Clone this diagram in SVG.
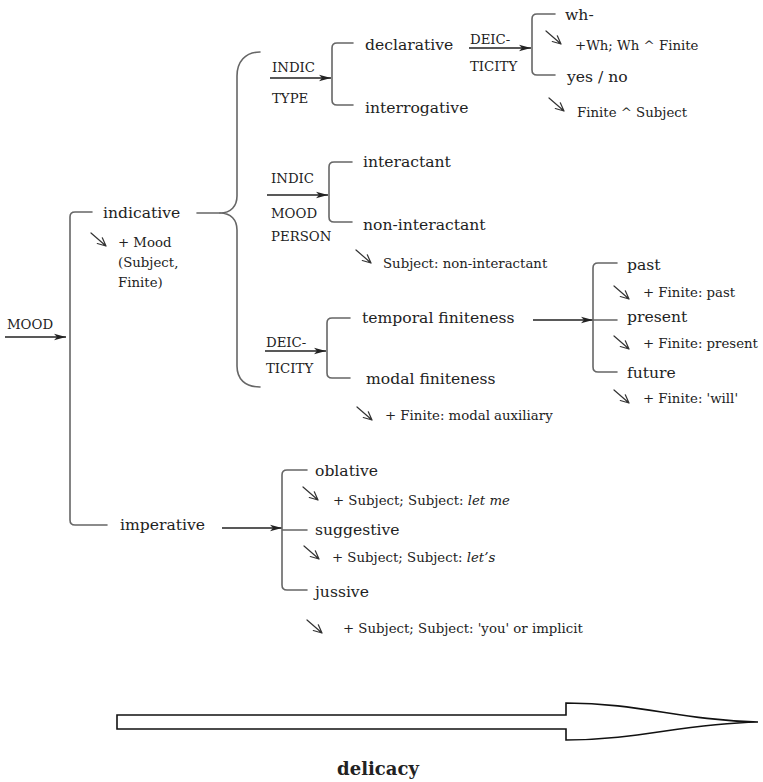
<svg xmlns="http://www.w3.org/2000/svg" width="763" height="782" viewBox="0 0 763 782">
<style>
text{font-family:"DejaVu Serif","Liberation Serif",serif;fill:#222}
.m{font-size:15.6px}
.s{font-size:13.3px}
.c{font-size:13.3px}
.br{fill:none;stroke:#666;stroke-width:1.6;stroke-linecap:round;stroke-linejoin:round}
.ar{fill:none;stroke:#222;stroke-width:1.3}
.sa{fill:none;stroke:#333;stroke-width:1.2;stroke-linecap:round}
.big{fill:#fff;stroke:#111;stroke-width:1.6;stroke-linejoin:miter}
</style>
<defs>
<marker id="ah" markerWidth="12" markerHeight="8" refX="12" refY="4" orient="auto" markerUnits="userSpaceOnUse">
<path d="M0,0.8 L12,4 L0,7.2 L3,4 Z" fill="#222"/>
</marker>
<path id="sarr" class="sa" d="M0,0 L15,13 M15,13 L6.3,10.5 M15,13 L11.3,4.8"/>
</defs>
<rect width="763" height="782" fill="#fff"/>

<g id="connectors">
<line class="ar" x1="5" y1="337" x2="66" y2="337" marker-end="url(#ah)"/>
<path class="br" d="M92,212 L75,212 Q70,212 70,217 L70,520 Q70,525 75,525 L107,525"/>
<line class="br" x1="197" y1="213" x2="220" y2="213"/>
<path class="br" d="M260,52 C245,52 237,62 237,76 L237,196 C237,206 231,213 220,213 C231,213 237,220 237,230 L237,366 C237,379 245,387 260,387"/>
<line class="ar" x1="270" y1="78" x2="331" y2="78" marker-end="url(#ah)"/>
<path class="br" d="M353,43 L337,43 Q332,43 332,48 L332,100 Q332,105 337,105 L353,105"/>
<line class="ar" x1="469" y1="48" x2="531" y2="48" marker-end="url(#ah)"/>
<path class="br" d="M555,14 L537,14 Q532,14 532,19 L532,70 Q532,75 537,75 L555,75"/>
<line class="ar" x1="267" y1="195" x2="328" y2="195" marker-end="url(#ah)"/>
<path class="br" d="M352,162 L334,162 Q329,162 329,167 L329,217 Q329,222 334,222 L352,222"/>
<line class="ar" x1="265" y1="351" x2="326" y2="351" marker-end="url(#ah)"/>
<path class="br" d="M350,318 L332,318 Q327,318 327,323 L327,373 Q327,378 332,378 L350,378"/>
<line class="ar" x1="533" y1="320" x2="593" y2="320" marker-end="url(#ah)"/>
<path class="br" d="M617,263 L598,263 Q593,263 593,268 L593,367 Q593,372 598,372 L617,372 M593,320 L617,320"/>
<line class="ar" x1="222" y1="528" x2="282" y2="528" marker-end="url(#ah)"/>
<path class="br" d="M307,470 L287,470 Q282,470 282,475 L282,585 Q282,590 287,590 L307,590 M282,530 L307,530"/>
</g>

<g id="mood"><text class="c" x="7" y="329">MOOD</text></g>

<g id="indicative">
<text class="m" x="103" y="218">indicative</text>
<use href="#sarr" x="91" y="233"/>
<text class="s" x="118" y="247">+ Mood</text>
<text class="s" x="118" y="267">(Subject,</text>
<text class="s" x="118" y="287">Finite)</text>
</g>

<g id="indic-type">
<text class="c" x="272" y="72">INDIC</text>
<text class="c" x="272" y="103">TYPE</text>
</g>
<g id="declarative"><text class="m" x="365" y="50">declarative</text></g>
<g id="interrogative"><text class="m" x="365" y="113">interrogative</text></g>
<g id="deicticity-1">
<text class="c" x="470" y="44">DEIC-</text>
<text class="c" x="470" y="71">TICITY</text>
</g>
<g id="wh">
<text class="m" x="565" y="20">wh-</text>
<use href="#sarr" x="546" y="31"/>
<text class="s" x="575" y="50">+Wh; Wh ^ Finite</text>
</g>
<g id="yes-no">
<text class="m" x="567" y="82">yes / no</text>
<use href="#sarr" x="549" y="98"/>
<text class="s" x="577" y="117">Finite ^ Subject</text>
</g>

<g id="indic-mood-person">
<text class="c" x="271" y="183">INDIC</text>
<text class="c" x="271" y="218">MOOD</text>
<text class="c" x="271" y="241">PERSON</text>
</g>
<g id="interactant"><text class="m" x="363" y="167">interactant</text></g>
<g id="non-interactant">
<text class="m" x="363" y="230">non-interactant</text>
<use href="#sarr" x="356" y="250"/>
<text class="s" x="383" y="268">Subject: non-interactant</text>
</g>

<g id="deicticity-2">
<text class="c" x="266" y="347">DEIC-</text>
<text class="c" x="266" y="373">TICITY</text>
</g>
<g id="temporal-finiteness"><text class="m" x="362" y="323">temporal finiteness</text></g>
<g id="modal-finiteness">
<text class="m" x="366" y="384">modal finiteness</text>
<use href="#sarr" x="357" y="407"/>
<text class="s" x="385" y="420">+ Finite: modal auxiliary</text>
</g>

<g id="past">
<text class="m" x="627" y="270">past</text>
<use href="#sarr" x="614" y="286"/>
<text class="s" x="643" y="297">+ Finite: past</text>
</g>
<g id="present">
<text class="m" x="627" y="322">present</text>
<use href="#sarr" x="614" y="336"/>
<text class="s" x="643" y="348">+ Finite: present</text>
</g>
<g id="future">
<text class="m" x="627" y="378">future</text>
<use href="#sarr" x="614" y="390"/>
<text class="s" x="643" y="403">+ Finite: 'will'</text>
</g>

<g id="imperative"><text class="m" x="120" y="530">imperative</text></g>
<g id="oblative">
<text class="m" x="315" y="476">oblative</text>
<use href="#sarr" x="303" y="487"/>
<text class="s" x="333" y="505">+ Subject; Subject: <tspan font-style="italic">let me</tspan></text>
</g>
<g id="suggestive">
<text class="m" x="315" y="535">suggestive</text>
<use href="#sarr" x="304" y="546"/>
<text class="s" x="332" y="562">+ Subject; Subject: <tspan font-style="italic">let’s</tspan></text>
</g>
<g id="jussive">
<text class="m" x="315" y="597">jussive</text>
<use href="#sarr" x="307" y="620"/>
<text class="s" x="343" y="633">+ Subject; Subject: 'you' or implicit</text>
</g>

<g id="delicacy">
<path class="big" d="M117,715 L566,715 L566,703 C640,703 680,720 758,722 C680,724 640,740 566,740 L566,729 L117,729 Z"/>
<text x="378" y="775" text-anchor="middle" font-size="18" font-weight="bold">delicacy</text>
</g>
</svg>
